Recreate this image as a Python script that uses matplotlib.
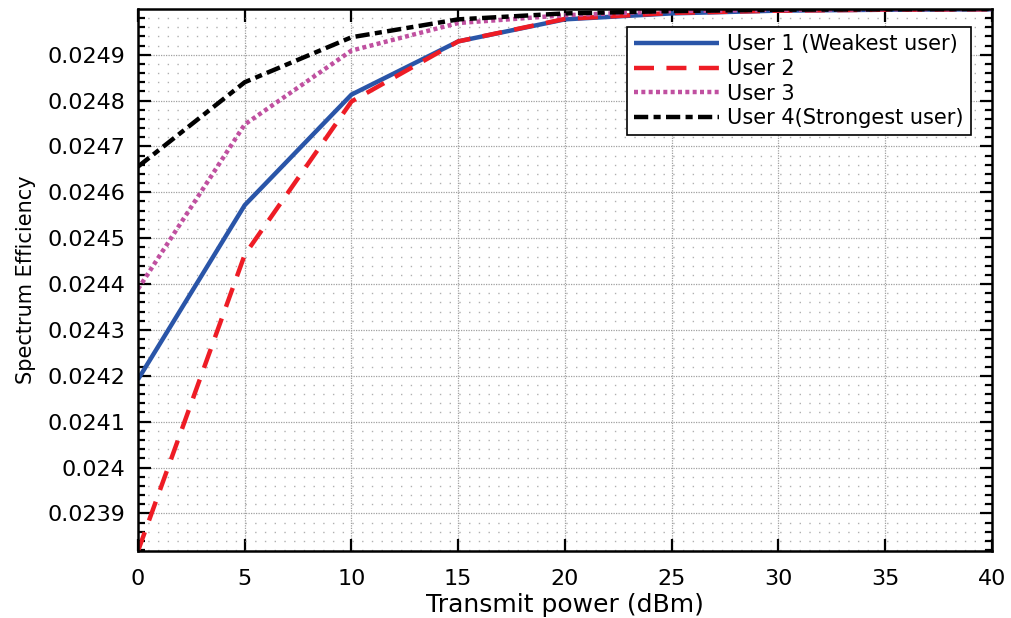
import matplotlib
matplotlib.use("Agg")
import matplotlib.pyplot as plt
from matplotlib.ticker import MultipleLocator

plt.rcParams['font.family'] = ['DejaVu Sans']

power = [0, 5, 10, 15, 20, 25, 30, 35, 40]
user1 = [0.024192, 0.024572, 0.024813, 0.024929, 0.024977, 0.024990, 0.024996, 0.024998, 0.024999]
user2 = [0.023818, 0.024464, 0.024798, 0.024929, 0.024978, 0.024991, 0.024996, 0.024998, 0.024999]
user3 = [0.024389, 0.024748, 0.024909, 0.024969, 0.024986, 0.024995, 0.024998, 0.024999, 0.0249995]
user4 = [0.024656, 0.024840, 0.024938, 0.024977, 0.024990, 0.024995, 0.024998, 0.024999, 0.0249995]
labels = ['User 1 (Weakest user)', 'User 2', 'User 3', 'User 4(Strongest user)']
yticks = [0.0239, 0.024, 0.0241, 0.0242, 0.0243, 0.0244, 0.0245, 0.0246, 0.0247, 0.0248, 0.0249]
ytick_labels = ['0.0239', '0.024', '0.0241', '0.0242', '0.0243', '0.0244', '0.0245', '0.0246', '0.0247', '0.0248', '0.0249']
xticks = [0, 5, 10, 15, 20, 25, 30, 35, 40]

fig = plt.figure(figsize=(10.11, 6.18), dpi=100)
ax = fig.add_axes([0.1365, 0.1084, 0.8447, 0.8766])

lw = 3.2
ax.plot(power, user1, color='#2a55a8', lw=lw, ls='-', label=labels[0], solid_capstyle='butt')
ax.plot(power, user2, color='#ee1c25', lw=lw, ls=(0, (4.5, 2.8)), label=labels[1])
ax.plot(power, user3, color='#c050a0', lw=lw, ls=(0, (0.9, 0.75)), label=labels[2])
ax.plot(power, user4, color='black', lw=lw, ls=(0, (3.2, 1.2, 1.6, 1.2)), label=labels[3])

ax.set_xlim(0, 40)
ax.set_ylim(0.023818, 0.024999)
ax.set_xticks(xticks)
ax.set_xticklabels([str(v) for v in xticks])
ax.set_yticks(yticks)
ax.set_yticklabels(ytick_labels)
ax.yaxis.set_minor_locator(MultipleLocator(0.00002))

ax.grid(True, which='major', color='#a0a0a0', ls=(0, (1, 1)), lw=0.9)
ax.grid(True, which='minor', axis='y', color='#b0b0b0', ls=(0, (1, 6)), lw=1.0)
ax.set_axisbelow(True)

ax.tick_params(which='both', direction='in', top=True, right=True, labelsize=16, width=1.6)
ax.tick_params(axis='y', pad=9)
ax.tick_params(axis='x', pad=13)
ax.tick_params(which='major', length=9)
ax.tick_params(which='minor', length=5)
for s in ax.spines.values():
    s.set_linewidth(1.8)

ax.set_xlabel('Transmit power (dBm)', fontsize=18, labelpad=3)
ax.set_ylabel('Spectrum Efficiency', fontsize=15, labelpad=8)

leg = ax.legend(loc='upper right', bbox_to_anchor=(0.975, 0.967), fontsize=15,
                handlelength=4.1, handletextpad=0.36, borderpad=0.35, labelspacing=0.22,
                fancybox=False, framealpha=1, edgecolor='black', borderaxespad=0)
leg.get_frame().set_linewidth(1.2)

fig.savefig('out.png', dpi=100)
